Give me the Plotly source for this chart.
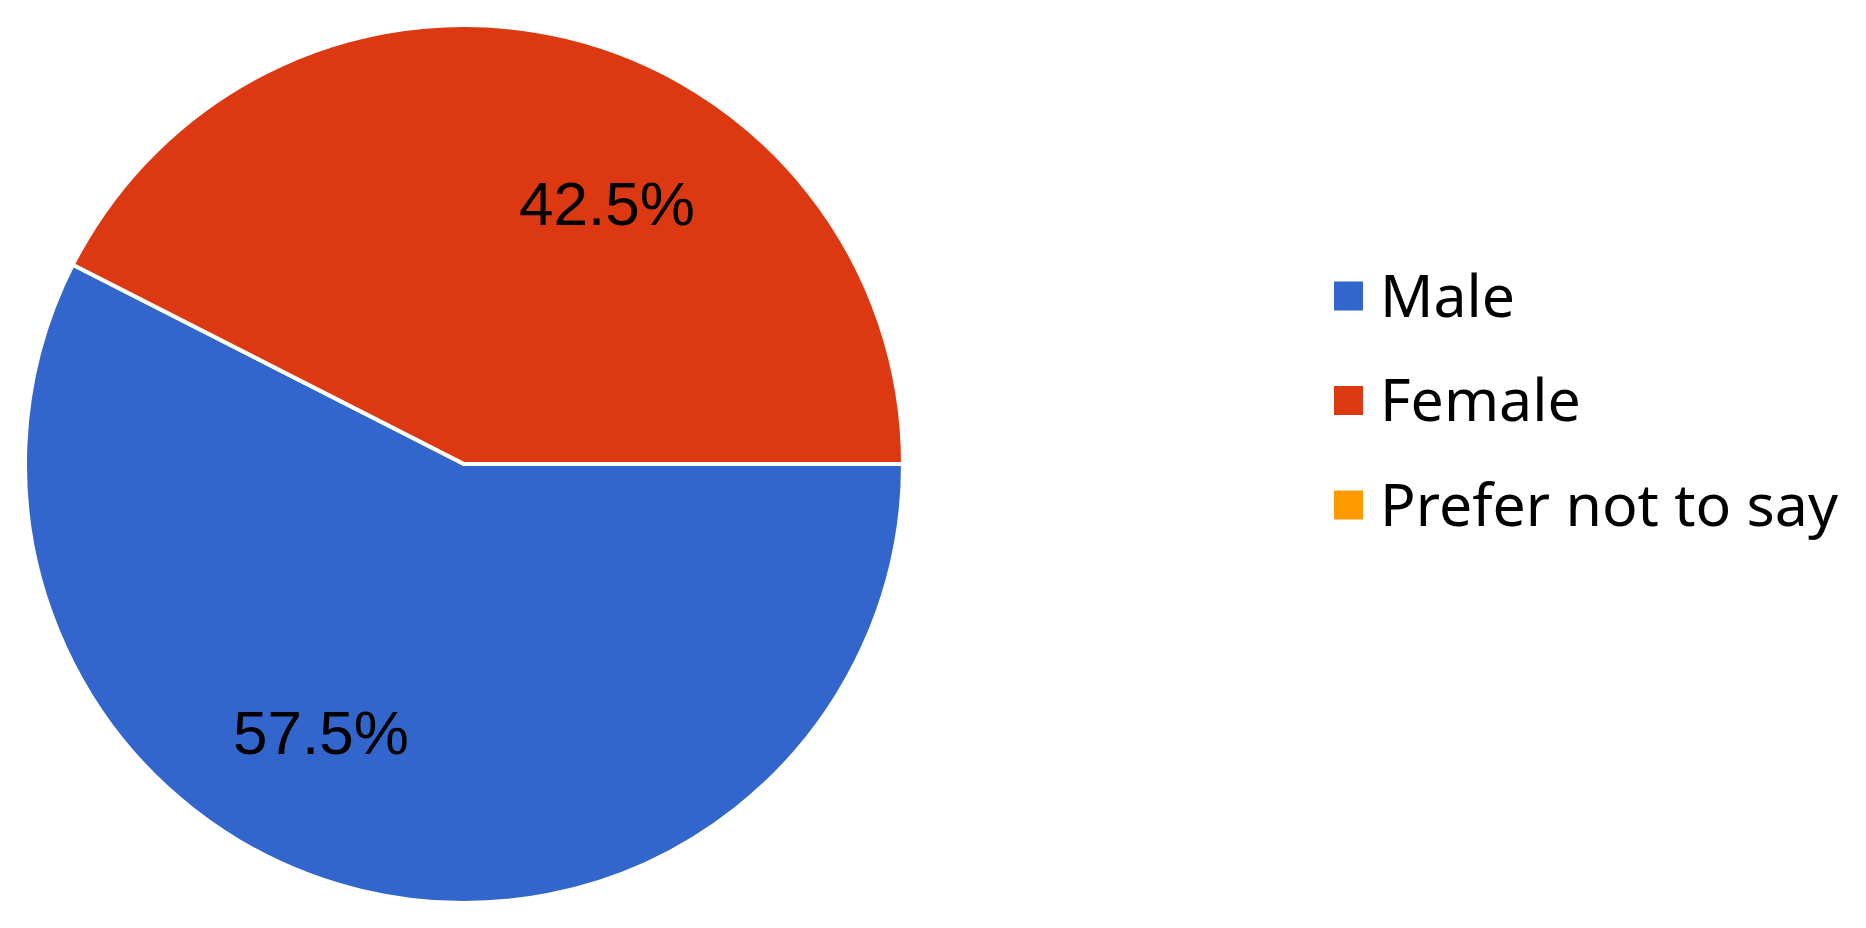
import math
import plotly.graph_objects as go

# Survey responses by gender (percent)
labels = ["Male", "Female", "Prefer not to say"]
values = [57.5, 42.5, 0]
colors = ["#3366CC", "#DC3912", "#FF9900"]

# page is 1866x928, the html body adds an 8px margin around the figure
PAGE_W, PAGE_H = 1866, 928
OFF = 8
W, H = PAGE_W - 2 * OFF, PAGE_H - 2 * OFF


def px(x):
    # page pixel -> paper x
    return (x - OFF) / W


def py(y):
    # page pixel from top -> paper y
    return 1 - (y - OFF) / H


# pie geometry (page pixels)
cx, cy, r = 464, 464, 439

fig = go.Figure()

fig.add_trace(go.Pie(
    labels=labels,
    values=values,
    sort=False,
    direction="clockwise",
    rotation=90,
    marker=dict(colors=colors, line=dict(color="white", width=4)),
    textinfo="none",
    domain=dict(x=[px(cx - r), px(cx + r)], y=[py(cy + r), py(cy - r)]),
    showlegend=False,
    hovertemplate="%{label}: %{percent:.1%}<extra></extra>",
))

# percentage labels, placed along each slice (same convention as the source chart)
total = sum(values)
start = 0.0
for v in values:
    sweep = 360 * v / total
    if v > 0:
        ang = math.radians(start + sweep / 2 + 15)
        lx = cx + 0.685 * r * math.cos(ang)
        ly = cy + 0.685 * r * math.sin(ang) + 4
        fig.add_annotation(x=px(lx), y=py(ly), xref="paper", yref="paper",
                           text=f"{100 * v / total:.1f}%", showarrow=False,
                           xanchor="center", yanchor="middle",
                           font=dict(family="Liberation Sans, Arial, sans-serif",
                                     size=62, color="black"))
    start += sweep

# Legend drawn by hand so the swatches match the large text
sq = 29
sq_x = 1334
text_x = 1378
row_top = 296
row_step = 104.5
for i, (lab, col) in enumerate(zip(labels, colors)):
    yc = row_top + i * row_step
    fig.add_shape(type="rect", xref="paper", yref="paper",
                  x0=px(sq_x), x1=px(sq_x + sq),
                  y0=py(yc + sq / 2), y1=py(yc - sq / 2),
                  fillcolor=col, line_width=0)
    fig.add_annotation(x=px(text_x), y=py(yc - 2), xref="paper", yref="paper",
                       text=lab, showarrow=False, xanchor="left", yanchor="middle",
                       font=dict(family="Noto Sans, Open Sans, sans-serif", size=59, color="black"))

fig.update_layout(
    width=W,
    height=H,
    margin=dict(l=0, r=0, t=0, b=0),
    paper_bgcolor="white",
    plot_bgcolor="white",
    showlegend=False,
)

fig.write_html("out.html")
